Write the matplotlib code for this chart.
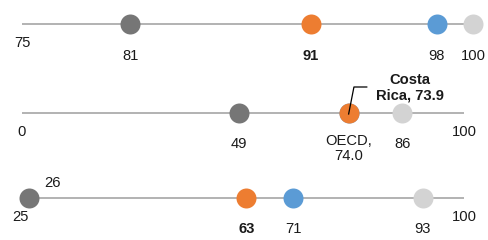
import matplotlib.pyplot as plt

plt.rcParams['font.family'] = ['Liberation Sans', 'DejaVu Sans']

# one row per indicator: axis range, marker values, which label goes bold
row_ranges = [(75, 100), (0, 100), (25, 100)]
low_vals = [81, 49, 26]       # dark grey
cr_vals = [91, 73.9, 63]      # Costa Rica (orange)
oecd_vals = [98, 74.0, 71]    # OECD (blue)
high_vals = [100, 86, 93]     # light grey

c_low = '#767676'
c_cr = '#ED7D31'
c_oecd = '#5B9BD5'
c_high = '#D3D3D3'
c_line = '#A6A6A6'

W, H = 489, 240
# pixel layout of each row: line y, x of range start, x of range end
row_y = [24, 113, 198]
row_x0 = [22, 22, 23]
row_x1 = [473, 464, 464]

fs = 10.6
fig = plt.figure(figsize=(W / 100, H / 100), dpi=100)

axes = []
for i in range(3):
    band = 60
    ax = fig.add_axes([row_x0[i] / W, 1 - (row_y[i] + band / 2) / H,
                       (row_x1[i] - row_x0[i]) / W, band / H])
    ax.set_xlim(*row_ranges[i])
    ax.set_ylim(-band / 2, band / 2)
    ax.set_axis_off()
    axes.append(ax)

def dot(ax, v, c):
    ax.plot([v], [0], 'o', ms=14.4, color=c, mec='none', clip_on=False, zorder=3)

def lab(ax, v, dy, s, bold=False, ha='center'):
    ax.text(v, dy, s, ha=ha, va='center', fontsize=fs, color='#1a1a1a',
            fontweight='bold' if bold else 'normal', clip_on=False)

# row 1
ax = axes[0]
lo, hi = row_ranges[0]
ax.plot([lo, hi], [0, 0], color=c_line, lw=1.2, zorder=1)
for v, c in [(low_vals[0], c_low), (cr_vals[0], c_cr), (oecd_vals[0], c_oecd), (high_vals[0], c_high)]:
    dot(ax, v, c)
lab(ax, lo, -19, str(lo))
lab(ax, low_vals[0], -32, str(low_vals[0]))
lab(ax, cr_vals[0], -32, str(cr_vals[0]), bold=True)
lab(ax, oecd_vals[0], -32, str(oecd_vals[0]))
lab(ax, high_vals[0], -32, str(high_vals[0]))

# row 2
ax = axes[1]
lo, hi = row_ranges[1]
ax.plot([lo, hi], [0, 0], color=c_line, lw=1.2, zorder=1)
for v, c in [(low_vals[1], c_low), (oecd_vals[1], c_oecd), (high_vals[1], c_high), (cr_vals[1], c_cr)]:
    dot(ax, v, c)
lab(ax, lo, -19, str(lo))
lab(ax, hi, -19, str(hi))
lab(ax, low_vals[1], -31, str(low_vals[1]))
lab(ax, high_vals[1], -31, str(high_vals[1]))
ax.text(oecd_vals[1], -35.5, 'OECD,\n%.1f' % oecd_vals[1], ha='center', va='center',
        fontsize=fs, color='#1a1a1a', linespacing=1.15, clip_on=False)
ax.text(cr_vals[1] + 13.8, 25, 'Costa\nRica, %.1f' % cr_vals[1], ha='center', va='center',
        fontsize=fs, fontweight='bold', color='#1a1a1a', linespacing=1.1, clip_on=False)
ax.plot([cr_vals[1], cr_vals[1] + 1.2, cr_vals[1] + 4.1], [-1, 26, 26],
        color='black', lw=0.9, zorder=4, clip_on=False)

# row 3
ax = axes[2]
lo, hi = row_ranges[2]
ax.plot([lo, hi], [0, 0], color=c_line, lw=1.2, zorder=1)
for v, c in [(low_vals[2], c_low), (cr_vals[2], c_cr), (oecd_vals[2], c_oecd), (high_vals[2], c_high)]:
    dot(ax, v, c)
lab(ax, lo - 0.4, -19, str(lo))
lab(ax, hi, -19, str(hi))
lab(ax, low_vals[2] + 4, 15, str(low_vals[2]))
lab(ax, cr_vals[2], -31, str(cr_vals[2]), bold=True)
lab(ax, oecd_vals[2], -31, str(oecd_vals[2]))
lab(ax, high_vals[2], -31, str(high_vals[2]))

fig.savefig('out.png', dpi=100, facecolor='white')
